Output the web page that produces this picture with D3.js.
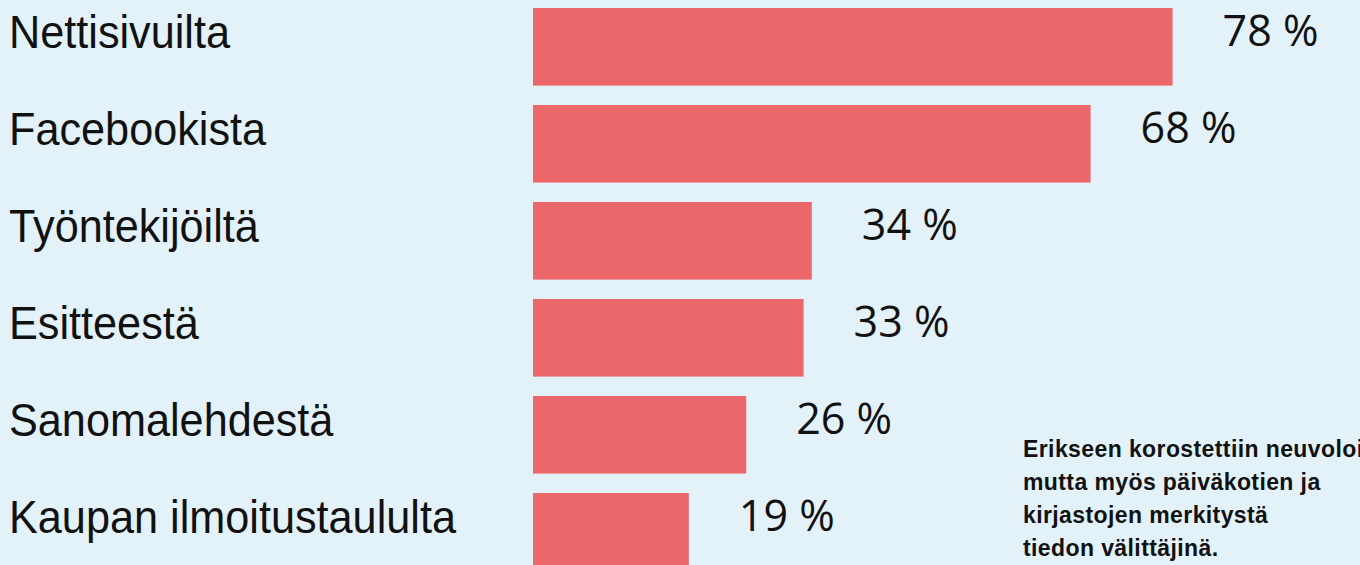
<html>
<head>
<script src="https://cdnjs.cloudflare.com/ajax/libs/d3/7.8.5/d3.min.js"></script>
<style>
    body { margin: 0; background: #e3f2f8; }
    svg { display: block; }
    .cat { font-family: "Liberation Sans", Arial, sans-serif; font-size: 46px; fill: #111; }
    .val { font-family: "Open Sans", sans-serif; font-size: 43px; font-weight: 500; fill: #111; }
    .note { font-family: "Liberation Sans", Arial, sans-serif; font-size: 23px; font-weight: bold; letter-spacing: 0.4px; fill: #111; }
</style>
</head>
<body>
<svg id="chart" width="1360" height="565"></svg>
<script>
    const categories = ['Nettisivuilta', 'Facebookista', 'Työntekijöiltä', 'Esitteestä', 'Sanomalehdestä', 'Kaupan ilmoitustaululta'];
    const values = [78, 68, 34, 33, 26, 19];
    // first line runs off the right edge in the original too
    const noteLines = ['Erikseen korostettiin neuvoloid', 'mutta myös päiväkotien ja', 'kirjastojen merkitystä', 'tiedon välittäjinä.'];

    const svg = d3.select('#chart');
    const width = +svg.attr('width'), height = +svg.attr('height');

    svg.append('rect').attr('width', width).attr('height', height).attr('fill', '#e3f2f8');

    const data = categories.map((c, i) => ({ cat: c, val: values[i] }));

    const y = d3.scaleBand()
        .domain(categories)
        .range([8, 570.6])
        .paddingInner(0.2)
        .paddingOuter(0);

    const x = d3.scaleLinear()
        .domain([0, 80])
        .range([533, 533 + 656]);

    svg.selectAll('.bar')
        .data(data)
      .enter()
        .append('rect')
        .attr('class', 'bar')
        .attr('x', x(0))
        .attr('y', d => y(d.cat))
        .attr('width', d => x(d.val) - x(0))
        .attr('height', y.bandwidth())
        .attr('fill', '#ec676a');

    // category names, slightly condensed like the original face
    svg.selectAll('.cat')
        .data(data)
      .enter()
        .append('text')
        .attr('class', 'cat')
        .attr('transform', d => 'translate(9,' + (y(d.cat) + 40) + ') scale(0.94,1)')
        .text(d => d.cat);

    svg.selectAll('.val')
        .data(data)
      .enter()
        .append('text')
        .attr('class', 'val')
        .attr('x', d => x(d.val) + 50)
        .attr('y', d => y(d.cat) + 38)
        .text(d => d.val + ' %');

    svg.append('text')
        .attr('class', 'note')
        .selectAll('tspan')
        .data(noteLines)
      .enter()
        .append('tspan')
        .attr('x', 1023)
        .attr('y', (d, i) => 457 + i * 33)
        .text(d => d);
</script>
</body>
</html>
